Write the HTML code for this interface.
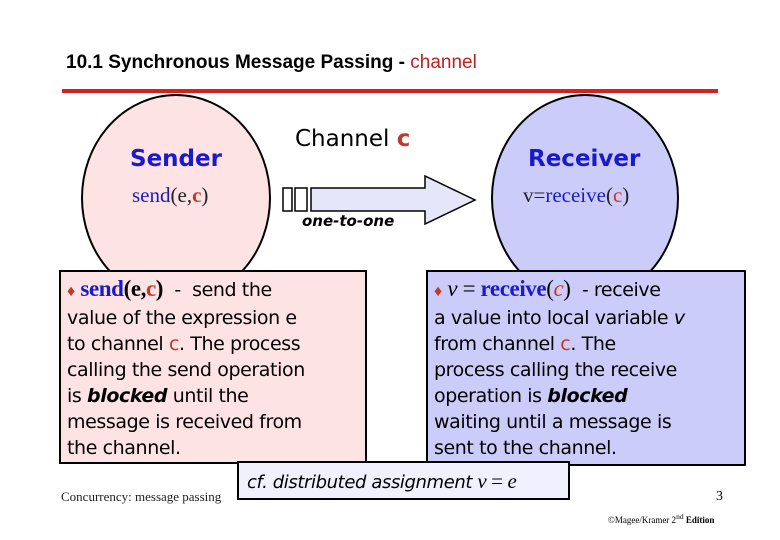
<!DOCTYPE html>
<html><head><style>
body{margin:0;width:780px;height:540px;background:#fff;position:relative;overflow:hidden;font-family:"Liberation Sans",sans-serif}
.a{position:absolute}
.cm{font-family:"Comic Sans MS","DejaVu Sans",sans-serif}
.box{position:absolute;border:2px solid #000;box-sizing:border-box;font-size:19px;line-height:26px;padding:4px 6px;letter-spacing:-0.4px;white-space:nowrap}
.s{font-family:"Liberation Serif",serif}
.r{color:#c0392b}.b{color:#1a1acc}
</style></head><body>
<div class="a" style="left:66px;top:52px;font-size:19px;font-weight:bold;color:#000">10.1 Synchronous Message Passing - <span style="color:#b22;font-weight:normal">channel</span></div>
<div class="a" style="left:62px;top:89px;width:656px;height:4px;background:#d42020"></div>
<svg class="a" style="left:0;top:0" width="780" height="540">
<ellipse cx="176" cy="198" rx="94" ry="103" fill="#fde3e3" stroke="#000" stroke-width="2"/>
<ellipse cx="585" cy="198" rx="93" ry="103" fill="#ccccfa" stroke="#000" stroke-width="2"/>
<rect x="283" y="188" width="9" height="23" fill="#fff" stroke="#000" stroke-width="1.5"/>
<rect x="295" y="188" width="12" height="23" fill="#fff" stroke="#000" stroke-width="1.5"/>
<polygon points="311,188 425,188 425,176 475,200 425,224 425,211 311,211" fill="#e6e6fb" stroke="#000" stroke-width="1.5"/>
</svg>
<div class="a cm b" style="left:130px;top:146px;font-size:23px;font-weight:bold">Sender</div>
<div class="a s b" style="left:132px;top:183px;font-size:21px">send<span style="color:#222">(e,</span><span class="r" style="font-weight:bold">c</span><span style="color:#222">)</span></div>
<div class="a cm" style="left:295px;top:126px;font-size:23px">Channel <span class="r" style="font-weight:bold">c</span></div>
<div class="a cm" style="left:302px;top:212px;font-size:15px;font-style:italic;font-weight:bold">one-to-one</div>
<div class="a cm b" style="left:528px;top:146px;font-size:23px;font-weight:bold">Receiver</div>
<div class="a s" style="left:523px;top:183px;font-size:21px;color:#222">v=<span class="b">receive</span>(<span class="r">c</span>)</div>
<div class="box cm" style="left:59px;top:270px;width:308px;height:194px;background:#fde3e3">
<span class="s r" style="font-size:16px">♦</span> <span class="s" style="font-size:23px;font-weight:bold"><span class="b">send</span>(e,<span class="r">c</span>)</span> &nbsp;- &nbsp;send the<br>value of the expression e<br>to channel <span class="r">c</span>. The process<br>calling the send operation<br>is <b><i>blocked</i></b> until the<br>message is received from<br>the channel.</div>
<div class="box cm" style="left:426px;top:270px;width:320px;height:196px;background:#ccccfa">
<span class="s r" style="font-size:16px">♦</span> <span class="s" style="font-size:23px"><i>v</i> = <b class="b">receive</b>(<i class="r">c</i>)</span> &nbsp;- receive<br>a value into local variable <i>v</i><br>from channel <span class="r">c</span>. The<br>process calling the receive<br>operation is <b><i>blocked</i></b><br>waiting until a message is<br>sent to the channel.</div>
<div class="a s" style="left:61px;top:489px;font-size:13px;color:#222">Concurrency: message passing</div>
<div class="box cm" style="left:237px;top:461px;width:333px;height:39px;background:#f0f0ff;font-size:18px;padding:5px 8px"><i>cf. distributed assignment</i> <span class="s" style="font-size:21px"><i>v</i> = <i>e</i></span></div>
<div class="a s" style="left:716px;top:489px;font-size:14px">3</div>
<div class="a s" style="left:608px;top:512px;font-size:9px">©Magee/Kramer 2<sup>nd</sup> <b>Edition</b></div>
</body></html>
